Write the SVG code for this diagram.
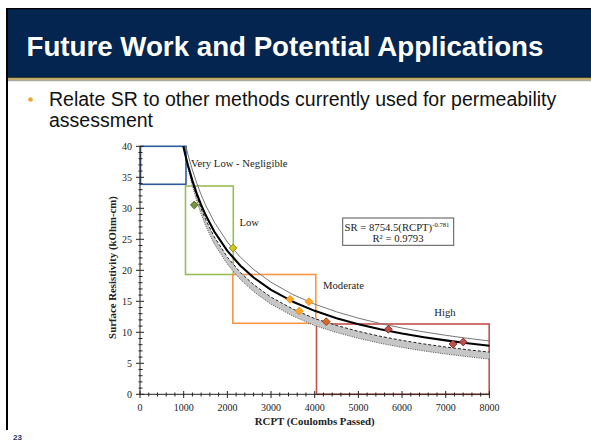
<svg xmlns="http://www.w3.org/2000/svg" width="591" height="444" viewBox="0 0 591 444">
<style>
.ax{stroke:#222;stroke-width:1;fill:none}
.tk{font-family:"Liberation Serif",serif;font-size:10px;fill:#222}
.ann{font-family:"Liberation Serif",serif;font-size:10.7px;fill:#222}
.ttl{font-family:"Liberation Serif",serif;font-size:10.8px;font-weight:bold;fill:#222}
.box{fill:none;stroke-width:1.6}
.dm{stroke-width:0.9}
</style>
<defs>
<path id="dia" d="M0,-3.9 L3.9,0 L0,3.9 L-3.9,0 Z"/>
</defs>
<rect width="591" height="444" fill="#fff"/>
<g id="header">
<rect x="6" y="8" width="585" height="70" fill="#03254f"/>
<rect x="6" y="8" width="585" height="1.2" fill="#000"/>
<rect x="6" y="77" width="585" height="1" fill="#3a3a2a"/>
<rect x="6" y="78" width="585" height="2.2" fill="#c2ad6e"/>
<rect x="6" y="80.2" width="585" height="1" fill="#9a9a90"/>
<rect x="6" y="8" width="2" height="422" fill="#000"/>
<text x="26.5" y="56" font-family="Liberation Sans, Arial, sans-serif" font-size="27.7" font-weight="bold" fill="#fff">Future Work and Potential Applications</text>
</g>
<g id="bullet">
<circle cx="30.5" cy="99.5" r="2.3" fill="#f0a52c"/>
<text font-family="Liberation Sans, Arial, sans-serif" font-size="19.5" fill="#111"><tspan x="49" y="105.5">Relate SR to other methods currently used for permeability</tspan><tspan x="49" y="126.5">assessment</tspan></text>
</g>
<g id="chart">
<g id="boxes">
<rect class="box" x="140.5" y="146.3" width="45.5" height="38" stroke="#2f5b9e"/>
<rect class="box" x="185.5" y="186" width="47.8" height="88.5" stroke="#9bbb59"/>
<rect class="box" x="232.8" y="274.5" width="83" height="48.8" stroke="#f79646"/>
<rect class="box" x="316.5" y="324" width="172.7" height="70.3" stroke="#c8504d"/>
</g>
<g id="band">
<path fill="#c6c6c6" stroke="none" d="M183.5,146.3 L188.04,166.33 L192.41,182.57 L196.78,196.52 L201.15,208.61 L205.51,219.21 L214.25,236.88 L227.35,257.17 L240.45,272.53 L253.56,284.56 L271.03,297.15 L292.86,309.05 L314.70,318.60 L336.54,325.48 L358.38,331.37 L380.21,336.27 L402.05,340.40 L423.89,343.95 L445.73,347.02 L467.56,349.72 L489.40,352.10 L489.40,359.10 L467.56,356.72 L445.73,354.02 L423.89,350.95 L402.05,347.40 L380.21,343.27 L358.38,338.37 L336.54,332.48 L314.70,325.60 L292.86,316.05 L271.03,304.15 L253.56,291.56 L240.45,279.53 L227.35,264.17 L214.25,243.88 L205.51,225.41 L201.15,214.11 L196.78,201.02 L192.41,186.07 L188.04,168.33 L183.5,146.3 Z"/>
<path fill="none" stroke="#555" stroke-width="1" stroke-dasharray="1 1.3" d="M183.5,146.3 L188.04,168.33 L192.41,186.07 L196.78,201.02 L201.15,214.11 L205.51,225.41 L214.25,243.88 L227.35,264.17 L240.45,279.53 L253.56,291.56 L271.03,304.15 L292.86,316.05 L314.70,325.60 L336.54,332.48 L358.38,338.37 L380.21,343.27 L402.05,347.40 L423.89,350.95 L445.73,354.02 L467.56,356.72 L489.40,359.10"/>
</g>
<g id="connectors">
<path fill="none" stroke="#222" stroke-width="1" stroke-dasharray="3 2" d="M183.5,146.3 L188.04,166.33 L192.41,182.57 L196.78,196.52 L201.15,208.61 L205.51,219.21 L214.25,236.88 L227.35,257.17 L240.45,272.53 L253.56,284.56 L271.03,297.15 L292.86,309.05 L314.70,318.60 L336.54,325.48 L358.38,331.37 L380.21,336.27 L402.05,340.40 L423.89,343.95 L445.73,347.02 L467.56,349.72 L489.40,352.10"/>
<path fill="none" stroke="#777" stroke-width="1" d="M185.86,146.3 L188.04,154.86 L192.41,170.11 L196.78,183.25 L201.15,194.78 L205.51,204.95 L214.25,222.06 L227.35,242.03 L240.45,257.28 L253.56,269.43 L271.03,282.26 L292.86,294.6 L314.70,304.17 L336.54,311.84 L358.38,318.16 L380.21,323.5 L402.05,328.02 L423.89,331.93 L445.73,335.3 L467.56,338.3 L489.40,340.97"/>
<path fill="none" stroke="#000" stroke-width="2.1" stroke-linejoin="round" d="M183.33,146.3 L185.42,155.35 L188.04,165.58 L192.41,180.59 L196.78,193.54 L201.15,204.83 L205.51,214.81 L214.25,231.49 L227.35,250.89 L240.45,265.71 L253.56,277.49 L271.03,289.83 L292.86,301.67 L314.70,310.85 L336.54,318.16 L358.38,324.18 L380.21,329.20 L402.05,333.50 L423.89,337.19 L445.73,340.40 L467.56,343.22 L489.40,345.74"/>
</g>
<g id="points">
<use href="#dia" x="194.3" y="205" fill="#77933c" stroke="#4f6228" class="dm"/>
<use href="#dia" x="233" y="248" fill="#d2c422" stroke="#8a8a1a" class="dm"/>
<use href="#dia" x="290" y="299.3" fill="#ffa726" stroke="#f08c00" class="dm"/>
<use href="#dia" x="299.3" y="311" fill="#ffa726" stroke="#f08c00" class="dm"/>
<use href="#dia" x="309" y="301.7" fill="#ffa726" stroke="#f08c00" class="dm"/>
<use href="#dia" x="326.3" y="321.7" fill="#d8692a" stroke="#9c4012" class="dm"/>
<use href="#dia" x="388.3" y="329.3" fill="#c0504d" stroke="#7c2624" class="dm"/>
<use href="#dia" x="453" y="344" fill="#c0504d" stroke="#7c2624" class="dm"/>
<use href="#dia" x="463.3" y="342" fill="#c0504d" stroke="#7c2624" class="dm"/>
</g>
<g id="axes">
<path class="ax" d="M140,146.3 V394.3 H489.4"/>
<path class="ax" d="M138.5,388.1h4M138.5,381.9h4M138.5,375.7h4M138.5,369.5h4M138.5,357.1h4M138.5,350.9h4M138.5,344.7h4M138.5,338.5h4M138.5,326.1h4M138.5,319.9h4M138.5,313.7h4M138.5,307.5h4M138.5,295.1h4M138.5,288.9h4M138.5,282.7h4M138.5,276.5h4M138.5,264.1h4M138.5,257.9h4M138.5,251.7h4M138.5,245.5h4M138.5,233.1h4M138.5,226.9h4M138.5,220.7h4M138.5,214.5h4M138.5,202.1h4M138.5,195.9h4M138.5,189.7h4M138.5,183.5h4M138.5,171.1h4M138.5,164.9h4M138.5,158.7h4M138.5,152.5h4"/>
<path class="ax" d="M136,394.3h8M136,363.3h8M136,332.3h8M136,301.3h8M136,270.3h8M136,239.3h8M136,208.3h8M136,177.3h8M136,146.3h8"/>
<path class="ax" d="M148.735,392.5v4M157.47,392.5v4M166.205,392.5v4M174.94,392.5v4M192.41,392.5v4M201.145,392.5v4M209.88,392.5v4M218.615,392.5v4M236.085,392.5v4M244.82,392.5v4M253.555,392.5v4M262.29,392.5v4M279.76,392.5v4M288.495,392.5v4M297.23,392.5v4M305.965,392.5v4M323.435,392.5v4M332.17,392.5v4M340.905,392.5v4M349.64,392.5v4M367.11,392.5v4M375.845,392.5v4M384.58,392.5v4M393.315,392.5v4M410.785,392.5v4M419.52,392.5v4M428.255,392.5v4M436.99,392.5v4M454.46,392.5v4M463.195,392.5v4M471.93,392.5v4M480.665,392.5v4"/>
<path class="ax" d="M140,391v7M183.675,391v7M227.35,391v7M271.025,391v7M314.7,391v7M358.375,391v7M402.05,391v7M445.725,391v7M489.4,391v7"/>
<g class="tk" text-anchor="end">
<text x="132" y="397.8">0</text>
<text x="132" y="366.8">5</text>
<text x="132" y="335.8">10</text>
<text x="132" y="304.8">15</text>
<text x="132" y="273.8">20</text>
<text x="132" y="242.8">25</text>
<text x="132" y="211.8">30</text>
<text x="132" y="180.8">35</text>
<text x="132" y="149.8">40</text>
</g>
<g class="tk" text-anchor="middle">
<text x="140" y="410.5">0</text>
<text x="183.7" y="410.5">1000</text>
<text x="227.4" y="410.5">2000</text>
<text x="271" y="410.5">3000</text>
<text x="314.7" y="410.5">4000</text>
<text x="358.4" y="410.5">5000</text>
<text x="402" y="410.5">6000</text>
<text x="445.7" y="410.5">7000</text>
<text x="489.4" y="410.5">8000</text>
</g>
<text class="ttl" x="314.7" y="425" text-anchor="middle">RCPT (Coulombs Passed)</text>
<text class="ttl" x="116" y="267.5" text-anchor="middle" transform="rotate(-90 116 267.5)">Surface Resistivity (kOhm-cm)</text>
</g>
<g id="labels">
<text class="ann" x="191" y="166.7">Very Low - Negligible</text>
<text class="ann" x="239.5" y="226">Low</text>
<text class="ann" x="323" y="289">Moderate</text>
<text class="ann" x="434.3" y="315.5">High</text>
</g>
<g id="equation">
<rect x="342.7" y="218" width="111" height="27.3" fill="#fff" stroke="#555" stroke-width="1"/>
<text class="ann" x="344.5" y="230.5">SR = 8754.5(RCPT)<tspan font-size="6.7" dy="-4">-0.781</tspan></text>
<text class="ann" x="398" y="241.5" text-anchor="middle">R² = 0.9793</text>
</g>
</g>
<text x="13" y="440" font-family="Liberation Sans, Arial, sans-serif" font-size="8" font-weight="bold" fill="#1f3864">23</text>
</svg>
